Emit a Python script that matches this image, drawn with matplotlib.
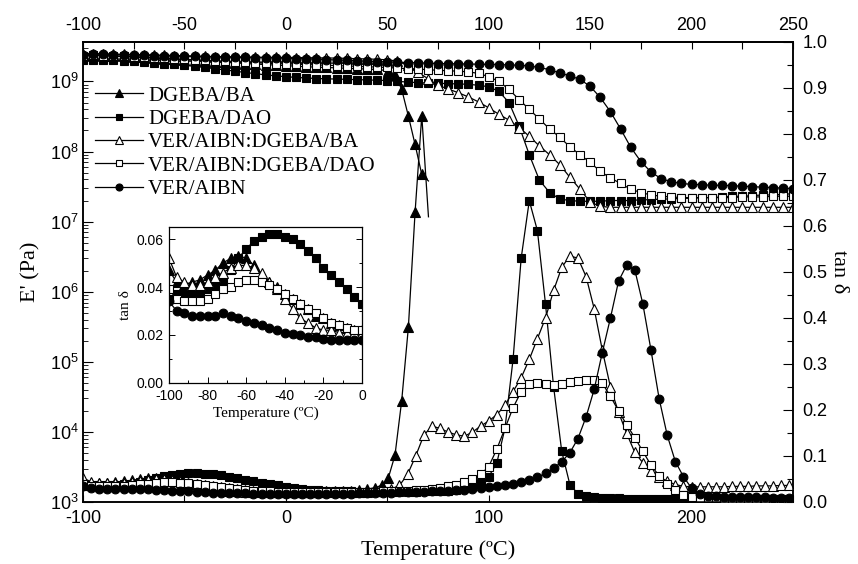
# DMA curves: storage modulus E' (log, left) and tan delta (right), inset with low-T tan delta

import numpy as np
import matplotlib
matplotlib.use('agg')
import matplotlib.pyplot as plt
from matplotlib.ticker import MultipleLocator, LogLocator, NullFormatter, FormatStrFormatter

plt.rcParams['font.family'] = 'Liberation Sans'
plt.rcParams['mathtext.fontset'] = 'custom'
plt.rcParams['mathtext.rm'] = 'Liberation Sans'
plt.rcParams['axes.unicode_minus'] = False
plt.rcParams['xtick.direction'] = 'in'
plt.rcParams['ytick.direction'] = 'in'
SERIF = 'Liberation Serif'

labels = ['DGEBA/BA', 'DGEBA/DAO', 'VER/AIBN:DGEBA/BA', 'VER/AIBN:DGEBA/DAO', 'VER/AIBN']

# temperature grids (ºC)
T5 = np.arange(-100, 251, 5)
T4 = np.arange(-100, 249, 4)
T_ba_end = [50.5, 53.8, 57.1, 60.4, 63.7, 67.0, 70.3]
T_ba_E = np.concatenate([np.arange(-100, 46, 5), T_ba_end])
T_ba_tan = np.concatenate([np.arange(-100, 45, 4), [47.5], T_ba_end])

# ---- storage modulus E' (Pa)
E_ba = [2.3e9, 2.35e9, 2.33e9, 2.3e9, 2.27e9, 2.24e9, 2.2e9, 2.16e9, 2.12e9, 2.08e9,
        2.04e9, 2.0e9, 1.96e9, 1.92e9, 1.88e9, 1.84e9, 1.8e9, 1.77e9, 1.74e9, 1.71e9,
        1.68e9, 1.65e9, 1.62e9, 1.6e9, 1.58e9, 1.56e9, 1.54e9, 1.52e9, 1.5e9, 1.48e9,
        1.42e9, 1.25e9, 7.7e8, 3.2e8, 1.26e8, 4.7e7, 3.8e7]

E_dao = [2.0e9, 2.05e9, 2.05e9, 2.0e9, 1.98e9, 1.95e9, 1.9e9, 1.85e9, 1.8e9, 1.75e9,
         1.7e9, 1.64e9, 1.58e9, 1.52e9, 1.46e9, 1.4e9, 1.34e9, 1.29e9, 1.24e9, 1.2e9,
         1.17e9, 1.14e9, 1.12e9, 1.1e9, 1.09e9, 1.08e9, 1.07e9, 1.06e9, 1.05e9, 1.04e9,
         1.03e9, 1.0e9, 9.8e8, 9.6e8, 9.5e8, 9.4e8, 9.3e8, 9.2e8, 9.1e8, 8.8e8,
         8.4e8, 7.2e8, 5.0e8, 2.3e8, 9.0e7, 3.9e7, 2.6e7, 2.1e7, 2.0e7, 1.95e7,
         1.95e7, 1.95e7, 2.0e7, 2.0e7, 2.0e7, 2.05e7, 2.05e7, 2.1e7, 2.1e7, 2.15e7,
         2.15e7, 2.2e7, 2.2e7, 2.25e7, 2.3e7, 2.3e7, 2.35e7, 2.4e7, 2.4e7, 2.45e7, 2.5e7]

E_vba = [2.5e9, 2.5e9, 2.48e9, 2.46e9, 2.44e9, 2.42e9, 2.4e9, 2.38e9, 2.36e9, 2.34e9,
         2.32e9, 2.3e9, 2.28e9, 2.26e9, 2.25e9, 2.24e9, 2.23e9, 2.22e9, 2.21e9, 2.2e9,
         2.2e9, 2.19e9, 2.18e9, 2.17e9, 2.16e9, 2.15e9, 2.13e9, 2.11e9, 2.09e9, 2.07e9,
         2.03e9, 1.95e9, 1.7e9, 1.35e9, 1.1e9, 8.8e8, 7.8e8, 6.9e8, 6.0e8, 5.1e8,
         4.2e8, 3.4e8, 2.8e8, 2.2e8, 1.65e8, 1.2e8, 9.0e7, 6.5e7, 4.3e7, 2.9e7,
         1.9e7, 1.65e7, 1.6e7, 1.6e7, 1.6e7, 1.6e7, 1.6e7, 1.6e7, 1.6e7, 1.6e7,
         1.6e7, 1.6e7, 1.6e7, 1.6e7, 1.6e7, 1.6e7, 1.6e7, 1.6e7, 1.6e7, 1.6e7, 1.6e7]

E_vdao = [2.3e9, 2.35e9, 2.33e9, 2.3e9, 2.27e9, 2.24e9, 2.2e9, 2.17e9, 2.14e9, 2.1e9,
          2.07e9, 2.04e9, 2.0e9, 1.97e9, 1.94e9, 1.91e9, 1.88e9, 1.85e9, 1.82e9, 1.8e9,
          1.78e9, 1.76e9, 1.74e9, 1.72e9, 1.7e9, 1.68e9, 1.66e9, 1.64e9, 1.62e9, 1.6e9,
          1.58e9, 1.55e9, 1.52e9, 1.5e9, 1.47e9, 1.44e9, 1.42e9, 1.4e9, 1.37e9, 1.3e9,
          1.17e9, 1.0e9, 7.7e8, 5.5e8, 4.0e8, 2.9e8, 2.1e8, 1.6e8, 1.17e8, 9.0e7,
          7.0e7, 5.2e7, 4.2e7, 3.5e7, 2.9e7, 2.6e7, 2.4e7, 2.3e7, 2.25e7, 2.2e7,
          2.2e7, 2.2e7, 2.2e7, 2.2e7, 2.2e7, 2.25e7, 2.25e7, 2.25e7, 2.3e7, 2.3e7, 2.3e7]

E_vaibn = [2.4e9, 2.45e9, 2.45e9, 2.42e9, 2.4e9, 2.38e9, 2.36e9, 2.34e9, 2.32e9, 2.3e9,
           2.28e9, 2.27e9, 2.25e9, 2.24e9, 2.22e9, 2.21e9, 2.2e9, 2.18e9, 2.17e9, 2.16e9,
           2.14e9, 2.12e9, 2.1e9, 2.08e9, 2.05e9, 2.02e9, 2.0e9, 1.97e9, 1.94e9, 1.92e9,
           1.9e9, 1.88e9, 1.86e9, 1.84e9, 1.82e9, 1.8e9, 1.79e9, 1.78e9, 1.77e9, 1.76e9,
           1.75e9, 1.74e9, 1.72e9, 1.7e9, 1.66e9, 1.58e9, 1.47e9, 1.32e9, 1.2e9, 1.07e9,
           8.5e8, 5.9e8, 3.7e8, 2.1e8, 1.15e8, 7.2e7, 5.1e7, 4.1e7, 3.7e7, 3.5e7,
           3.4e7, 3.35e7, 3.3e7, 3.3e7, 3.25e7, 3.2e7, 3.15e7, 3.1e7, 3.05e7, 3.0e7, 2.95e7]

# ---- tan delta, -100..0 ºC (also shown in the inset)
tan_low_ba = [0.047, 0.042, 0.041, 0.042, 0.043, 0.045, 0.047, 0.050, 0.052, 0.053, 0.052, 0.049, 0.045,
              0.042, 0.040, 0.037, 0.035, 0.033, 0.031, 0.028, 0.027, 0.025, 0.024, 0.023, 0.022, 0.022]
tan_low_dao = [0.035, 0.037, 0.038, 0.038, 0.038, 0.039, 0.040, 0.043, 0.047, 0.052, 0.056, 0.059, 0.061,
               0.062, 0.062, 0.061, 0.060, 0.058, 0.055, 0.052, 0.048, 0.045, 0.042, 0.039, 0.036, 0.033]
tan_low_vba = [0.052, 0.044, 0.042, 0.041, 0.041, 0.042, 0.044, 0.046, 0.048, 0.049, 0.049, 0.048, 0.046,
               0.042, 0.039, 0.035, 0.031, 0.027, 0.025, 0.023, 0.022, 0.022, 0.021, 0.021, 0.021, 0.021]
tan_low_vdao = [0.039, 0.035, 0.034, 0.034, 0.034, 0.035, 0.037, 0.039, 0.040, 0.042, 0.043, 0.043, 0.042,
                0.041, 0.039, 0.037, 0.035, 0.033, 0.031, 0.029, 0.027, 0.025, 0.024, 0.023, 0.022, 0.022]
tan_low_vaibn = [0.034, 0.030, 0.029, 0.028, 0.028, 0.028, 0.028, 0.029, 0.028, 0.027, 0.026, 0.025, 0.024,
                 0.023, 0.022, 0.021, 0.0205, 0.020, 0.019, 0.019, 0.0185, 0.018, 0.018, 0.018, 0.018, 0.018]

# ---- tan delta above 0 ºC
tan_high_ba = [0.022, 0.022, 0.022, 0.022, 0.023, 0.023, 0.024, 0.025, 0.026, 0.028, 0.031,
               0.037, 0.052, 0.102, 0.22, 0.38, 0.63, 0.84, 0.62]
tan_high_dao = [0.031, 0.029, 0.027, 0.026, 0.025, 0.024, 0.023, 0.023, 0.022, 0.022,
                0.022, 0.022, 0.022, 0.022, 0.022, 0.022, 0.023, 0.023, 0.024, 0.025,
                0.027, 0.030, 0.034, 0.042, 0.055, 0.085, 0.16, 0.31, 0.53, 0.655,
                0.59, 0.43, 0.25, 0.11, 0.038, 0.018, 0.012, 0.010, 0.009, 0.008,
                0.008, 0.007, 0.007, 0.007, 0.006, 0.006, 0.006, 0.006, 0.006, 0.005,
                0.005, 0.005, 0.005, 0.005, 0.005, 0.005, 0.004, 0.004, 0.004, 0.004,
                0.004, 0.004]
tan_high_vba = [0.021, 0.021, 0.021, 0.021, 0.021, 0.021, 0.021, 0.022, 0.022, 0.022,
                0.023, 0.025, 0.028, 0.036, 0.06, 0.10, 0.145, 0.165, 0.16, 0.152,
                0.146, 0.143, 0.152, 0.165, 0.176, 0.19, 0.21, 0.24, 0.27, 0.31,
                0.355, 0.40, 0.46, 0.51, 0.535, 0.53, 0.49, 0.42, 0.33, 0.25,
                0.195, 0.149, 0.108, 0.085, 0.068, 0.055, 0.045, 0.038, 0.034, 0.033,
                0.033, 0.033, 0.033, 0.033, 0.034, 0.034, 0.034, 0.035, 0.035, 0.035,
                0.036, 0.036]
tan_high_vdao = [0.022, 0.022, 0.021, 0.021, 0.021, 0.021, 0.021, 0.021, 0.021, 0.022,
                 0.022, 0.023, 0.023, 0.024, 0.025, 0.026, 0.027, 0.029, 0.031, 0.034,
                 0.038, 0.043, 0.05, 0.06, 0.077, 0.115, 0.16, 0.205, 0.24, 0.256,
                 0.258, 0.256, 0.254, 0.256, 0.26, 0.264, 0.266, 0.265, 0.258, 0.23,
                 0.198, 0.168, 0.14, 0.11, 0.08, 0.057, 0.04, 0.026, 0.015, 0.011,
                 0.009, 0.008, 0.008, 0.007, 0.007, 0.007, 0.007, 0.006, 0.006, 0.006,
                 0.006, 0.006]
tan_high_vaibn = [0.018, 0.018, 0.018, 0.018, 0.018, 0.018, 0.018, 0.018, 0.019, 0.019,
                  0.019, 0.02, 0.02, 0.021, 0.021, 0.022, 0.022, 0.023, 0.024, 0.025,
                  0.026, 0.027, 0.029, 0.03, 0.032, 0.034, 0.037, 0.04, 0.044, 0.048,
                  0.054, 0.062, 0.073, 0.088, 0.107, 0.138, 0.185, 0.245, 0.325, 0.40,
                  0.48, 0.515, 0.505, 0.43, 0.33, 0.225, 0.145, 0.088, 0.055, 0.03,
                  0.018, 0.014, 0.012, 0.011, 0.011, 0.01, 0.01, 0.01, 0.01, 0.009,
                  0.009, 0.009]

styles = [('^', True, 7.0), ('s', True, 5.6), ('^', False, 7.0), ('s', False, 5.6), ('o', True, 6.3)]
E_data = [(T_ba_E, E_ba), (T5, E_dao), (T5, E_vba), (T5, E_vdao), (T5, E_vaibn)]
tan_low = [tan_low_ba, tan_low_dao, tan_low_vba, tan_low_vdao, tan_low_vaibn]
tan_high = [tan_high_ba, tan_high_dao, tan_high_vba, tan_high_vdao, tan_high_vaibn]


def draw(axis, t, y, style, markevery=None):
    marker, filled, ms = style
    return axis.plot(t, y, color='black', lw=0.9, marker=marker, ms=ms,
                     mfc='black' if filled else 'white', mec='black', mew=0.8,
                     markevery=markevery)[0]


fig = plt.figure(figsize=(8.58, 5.64), dpi=100)
ax = fig.add_axes([83/858, 1-502/564, 710/858, 460/564])
ax2 = ax.twinx()

handles = []
for i in range(5):
    t, e = E_data[i]
    tan = tan_low[i] + tan_high[i]
    tt = T_ba_tan if i == 0 else T4
    me = list(range(len(t) - 1)) if i == 0 else None
    me2 = list(range(len(tt) - 1)) if i == 0 else None
    h = draw(ax, t, e, styles[i], me)
    draw(ax2, tt, tan, styles[i], me2)
    handles.append(h)

ax.set_yscale('log')
ax.set_xlim(-100, 250)
ax.set_ylim(1e3, 3.65e9)
ax2.set_ylim(0, 1.0)

ax.yaxis.set_major_locator(LogLocator(base=10, numticks=12))
ax.yaxis.set_minor_locator(LogLocator(base=10, subs=np.arange(2, 10), numticks=12))
ax.yaxis.set_minor_formatter(NullFormatter())
ax.xaxis.set_major_locator(MultipleLocator(100))
ax.xaxis.set_minor_locator(MultipleLocator(50))
ax.tick_params(axis='y', which='major', length=7, width=0.8, labelsize=13, pad=3)
ax.tick_params(axis='y', which='minor', length=3.5, width=0.6)
ax.tick_params(axis='x', which='both', length=5, width=0.8, labelsize=13, pad=6, top=False)

sec = ax.secondary_xaxis('top')
sec.xaxis.set_major_locator(MultipleLocator(50))
sec.xaxis.set_minor_locator(MultipleLocator(25))
sec.tick_params(which='both', direction='in', length=5, width=0.8, labelsize=13, pad=6)

ax2.yaxis.set_major_locator(MultipleLocator(0.1))
ax2.yaxis.set_minor_locator(MultipleLocator(0.05))
ax2.yaxis.set_major_formatter(FormatStrFormatter('%.1f'))
ax2.tick_params(axis='y', which='major', length=7, width=0.8, labelsize=13, pad=7)
ax2.tick_params(axis='y', which='minor', length=4, width=0.8)

for a in (ax, ax2):
    for s in a.spines.values():
        s.set_linewidth(1.1)
sec.spines['top'].set_linewidth(1.1)

ax.set_ylabel("E' (Pa)", fontfamily=SERIF, fontsize=16, labelpad=7)
ax2.set_ylabel('tan δ', fontfamily=SERIF, fontsize=16, rotation=270, va='bottom', labelpad=1)
ax.set_xlabel('Temperature (ºC)', fontfamily=SERIF, fontsize=16, labelpad=9)

ax2.legend(handles, labels, loc='upper left', bbox_to_anchor=(95/858, 1-86/564),
           bbox_transform=fig.transFigure, frameon=False, borderpad=0, borderaxespad=0,
           handlelength=2.3, handletextpad=0.25, labelspacing=0.18, markerscale=0.8,
           prop={'family': SERIF, 'size': 15})

# inset: low temperature tan delta
axin = fig.add_axes([169/858, 1-383/564, 193/858, 156/564])
axin.set_zorder(5)
for i in range(5):
    draw(axin, T4[:26], tan_low[i], styles[i])
axin.set_xlim(-100, 0)
axin.set_ylim(0, 0.065)
axin.xaxis.set_major_locator(MultipleLocator(20))
axin.xaxis.set_minor_locator(MultipleLocator(10))
axin.yaxis.set_major_locator(MultipleLocator(0.02))
axin.yaxis.set_minor_locator(MultipleLocator(0.01))
axin.yaxis.set_major_formatter(FormatStrFormatter('%.2f'))
axin.tick_params(which='both', right=True, top=False, labelsize=10, width=0.7)
axin.tick_params(which='major', length=4, pad=4)
axin.tick_params(which='minor', length=2.5)
for s in axin.spines.values():
    s.set_linewidth(0.9)
axin.set_xlabel('Temperature (ºC)', fontfamily=SERIF, fontsize=11, labelpad=3)
axin.set_ylabel('tan δ', fontfamily=SERIF, fontsize=11, labelpad=3)

fig.savefig('out.png', dpi=100)
